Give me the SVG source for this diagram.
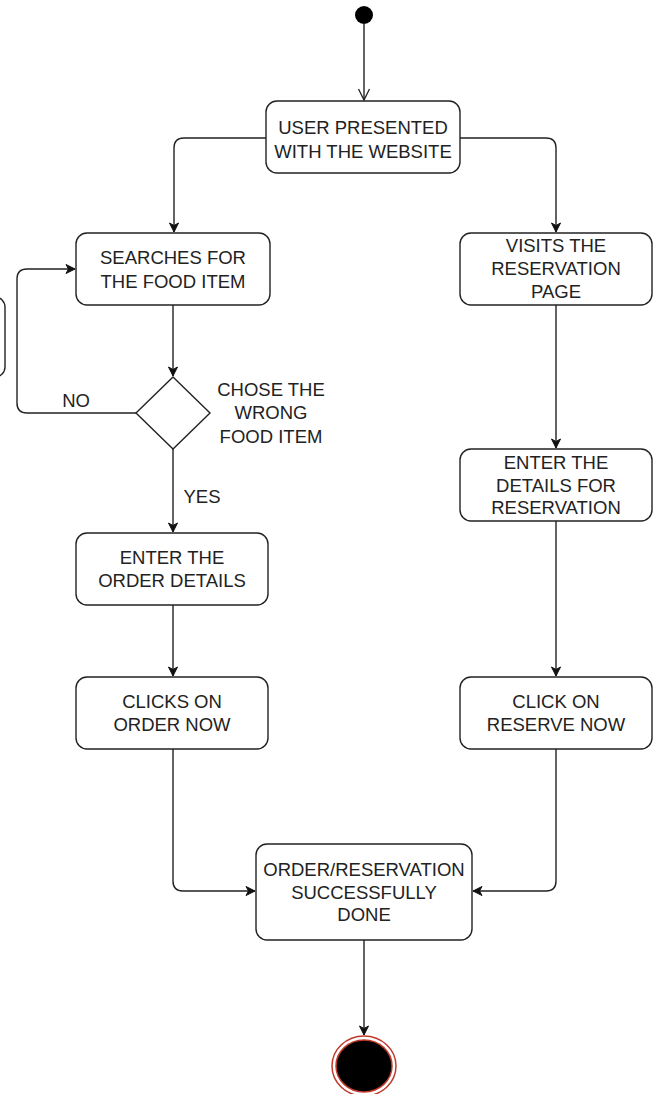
<svg xmlns="http://www.w3.org/2000/svg" width="656" height="1094" viewBox="0 0 656 1094">
<style>
.box{fill:#fff;stroke:#222;stroke-width:1.4}
.ln{fill:none;stroke:#222;stroke-width:1.4}
text{font-family:"Liberation Sans",Arial,sans-serif;font-size:18.5px;fill:#222;text-anchor:middle}
</style>
<defs>
<marker id="ah" markerWidth="12" markerHeight="12" refX="10" refY="6" orient="auto" markerUnits="userSpaceOnUse">
<path d="M1,1.5 L10,6 L1,10.5 L3.5,6 Z" fill="#111" stroke="#111" stroke-width="1"/>
</marker>
<marker id="open" markerWidth="14" markerHeight="14" refX="12" refY="7" orient="auto" markerUnits="userSpaceOnUse">
<path d="M1,1.5 L12,7 L1,12.5" fill="none" stroke="#222" stroke-width="1.3"/>
</marker>
</defs>
<rect width="656" height="1094" fill="#fff"/>
<g id="connectors">
<path class="ln" d="M364,24 V100" marker-end="url(#open)"/>
<path class="ln" d="M266,138 H184 Q174,138 174,148 V232" marker-end="url(#ah)"/>
<path class="ln" d="M460,138 H546 Q556,138 556,148 V232" marker-end="url(#ah)"/>
<path class="ln" d="M173,305 V376" marker-end="url(#ah)"/>
<path class="ln" d="M136,413 H27 Q17,413 17,403 V279 Q17,269 27,269 H75" marker-end="url(#ah)"/>
<path class="ln" d="M173,449 V532" marker-end="url(#ah)"/>
<path class="ln" d="M173,605 V676" marker-end="url(#ah)"/>
<path class="ln" d="M173,749 V881 Q173,891 183,891 H255" marker-end="url(#ah)"/>
<path class="ln" d="M556,305 V448" marker-end="url(#ah)"/>
<path class="ln" d="M556,521 V676" marker-end="url(#ah)"/>
<path class="ln" d="M556,749 V881 Q556,891 546,891 H473" marker-end="url(#ah)"/>
<path class="ln" d="M364,940 V1035" marker-end="url(#ah)"/>
<text x="76" y="407">NO</text>
<text x="202" y="503">YES</text>
</g>
<g id="start"><ellipse cx="364" cy="15" rx="9" ry="9" fill="#000"/></g>
<g id="offscreen"><rect class="box" x="-100" y="297" width="105" height="80" rx="10"/></g>
<g id="user">
<rect class="box" x="266" y="101" width="194" height="72" rx="11"/>
<text x="363" y="134">USER PRESENTED</text>
<text x="363" y="158">WITH THE WEBSITE</text>
</g>
<g id="search">
<rect class="box" x="76" y="233" width="194" height="72" rx="11"/>
<text x="173" y="264">SEARCHES FOR</text>
<text x="173" y="288">THE FOOD ITEM</text>
</g>
<g id="visit">
<rect class="box" x="460" y="233" width="192" height="72" rx="11"/>
<text x="556" y="252">VISITS THE</text>
<text x="556" y="275">RESERVATION</text>
<text x="556" y="298">PAGE</text>
</g>
<g id="decision">
<path class="box" d="M173,377 L210,413 L173,449 L136,413 Z"/>
<text x="271" y="396">CHOSE THE</text>
<text x="271" y="419">WRONG</text>
<text x="271" y="443">FOOD ITEM</text>
</g>
<g id="order">
<rect class="box" x="76" y="533" width="192" height="72" rx="11"/>
<text x="172" y="564">ENTER THE</text>
<text x="172" y="587">ORDER DETAILS</text>
</g>
<g id="details">
<rect class="box" x="460" y="449" width="192" height="72" rx="11"/>
<text x="556" y="469">ENTER THE</text>
<text x="556" y="492">DETAILS FOR</text>
<text x="556" y="514">RESERVATION</text>
</g>
<g id="ordernow">
<rect class="box" x="76" y="677" width="192" height="72" rx="11"/>
<text x="172" y="708">CLICKS ON</text>
<text x="172" y="731">ORDER NOW</text>
</g>
<g id="reserve">
<rect class="box" x="460" y="677" width="192" height="72" rx="11"/>
<text x="556" y="708">CLICK ON</text>
<text x="556" y="731">RESERVE NOW</text>
</g>
<g id="done">
<rect class="box" x="256" y="844" width="216" height="96" rx="11"/>
<text x="364" y="876">ORDER/RESERVATION</text>
<text x="364" y="899">SUCCESSFULLY</text>
<text x="364" y="921">DONE</text>
</g>
<g id="end">
<ellipse cx="364" cy="1066" rx="32" ry="30" fill="none" stroke="#c0392b" stroke-width="1.5"/>
<ellipse cx="364" cy="1066" rx="28" ry="26" fill="#000" stroke="#c0392b" stroke-width="1.5"/>
</g>
</svg>
